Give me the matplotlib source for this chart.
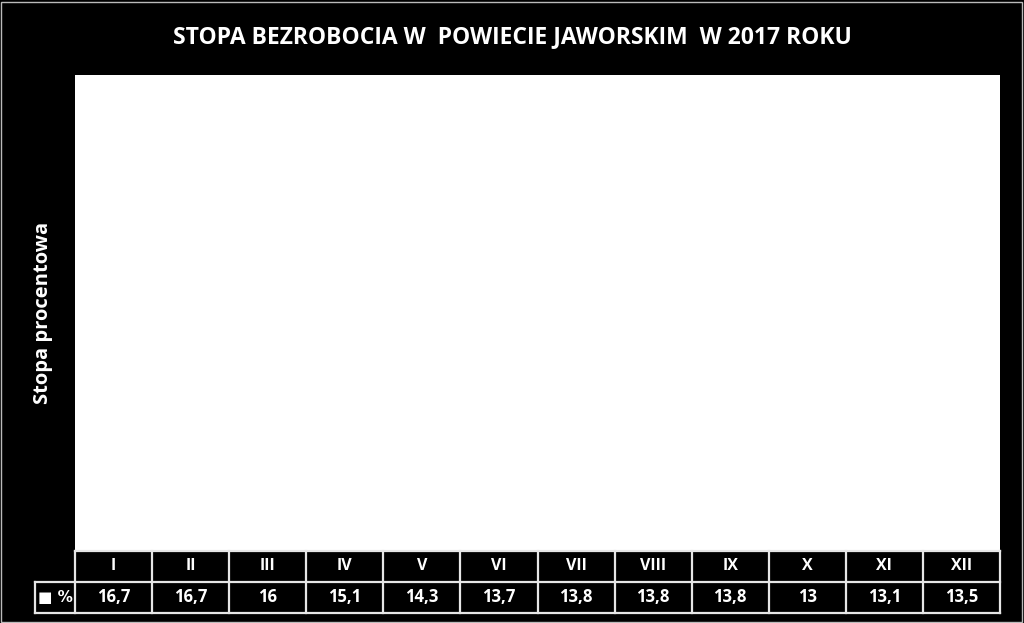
import matplotlib.pyplot as plt
from matplotlib.patches import Rectangle

# Data
months = ['I', 'II', 'III', 'IV', 'V', 'VI', 'VII', 'VIII', 'IX', 'X', 'XI', 'XII']
rate = [16.7, 16.7, 16.0, 15.1, 14.3, 13.7, 13.8, 13.8, 13.8, 13.0, 13.1, 13.5]
rate_labels = ['16,7', '16,7', '16', '15,1', '14,3', '13,7', '13,8', '13,8', '13,8', '13', '13,1', '13,5']
row_label = '\u25a0 %'

W, H = 1024, 623
fig = plt.figure(figsize=(W / 100, H / 100), dpi=100, facecolor='black')
plt.rcParams['font.family'] = ['Open Sans', 'DejaVu Sans']

# outer thin border
fig.add_artist(Rectangle((0.001, 0.002), 0.997, 0.995, transform=fig.transFigure,
                         fill=False, edgecolor='#bbbbbb', linewidth=1))

# plot area (white) - bars are white on white as in the original
px0, px1, py0, py1 = 75, 1000, 75, 551
ax = fig.add_axes([px0 / W, 1 - py1 / H, (px1 - px0) / W, (py1 - py0) / H])
ax.set_facecolor('white')
ax.bar(range(len(months)), rate, width=0.6, color='white')
ax.set_xlim(-0.5, len(months) - 0.5)
ax.set_ylim(0, 18)
ax.set_xticks([])
ax.set_yticks([])
for s in ax.spines.values():
    s.set_visible(False)

fig.text(512 / W, 1 - 37 / H, 'STOPA BEZROBOCIA W  POWIECIE JAWORSKIM  W 2017 ROKU',
         color='white', fontsize=16.5, fontweight='bold', ha='center', va='center')
fig.text(43 / W, 1 - 313 / H, 'Stopa procentowa', color='white', fontsize=14.5,
         fontweight='bold', rotation=90, ha='center', va='center')

# data table
tx0, ty0, ty1 = 35, 551, 613
n = len(months)
colw = (px1 - px0) / n
lw = (px0 - tx0) / colw
tax = fig.add_axes([tx0 / W, 1 - ty1 / H, (px1 - tx0) / W, (ty1 - ty0) / H])
tax.set_xlim(-lw, n)
tax.set_ylim(0, 2)
tax.axis('off')
tax.set_facecolor('none')
lc = '#e6e6e6'
lwid = 1.6
for i in range(n + 1):
    tax.plot([i, i], [0, 2], color=lc, lw=lwid, solid_capstyle='projecting', clip_on=False)
tax.plot([0, n], [2, 2], color=lc, lw=lwid, clip_on=False)
tax.plot([-lw, n], [1, 1], color=lc, lw=lwid, clip_on=False)
tax.plot([-lw, n], [0, 0], color=lc, lw=lwid, clip_on=False)
tax.plot([-lw, -lw], [0, 1], color=lc, lw=lwid, clip_on=False)
for i, (m, v) in enumerate(zip(months, rate_labels)):
    tax.text(i + 0.5, 1.5, m, color='white', fontsize=11.5, fontweight='bold',
             ha='center', va='center')
    tax.text(i + 0.5, 0.5, v, color='white', fontsize=12, fontweight='bold',
             ha='center', va='center')
tax.text(-lw / 2, 0.5, row_label, color='white', fontsize=11, fontweight='bold',
         ha='center', va='center', family=['DejaVu Sans'])

fig.savefig('out.png', dpi=100, facecolor='black')
